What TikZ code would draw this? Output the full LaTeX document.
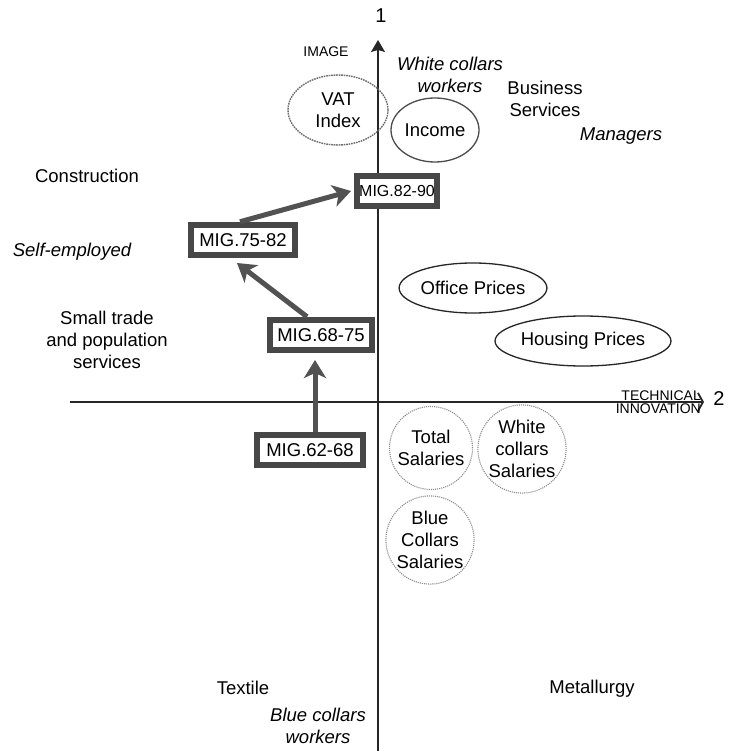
\documentclass[tikz,border=0pt]{standalone}
\usepackage{fontspec}
\setmainfont{Liberation Sans}
\usetikzlibrary{arrows.meta,shapes.geometric}
\begin{document}
\begin{tikzpicture}[x=1pt,y=-1pt,
  txt/.style={inner sep=0pt,font=\fontsize{18.5}{22}\selectfont,align=center},
  itx/.style={txt,font=\fontsize{18.5}{22}\selectfont\itshape},
  small/.style={inner sep=0pt,font=\fontsize{14}{15}\selectfont},
  axis/.style={line width=1.2pt,black!85},
  migbox/.style={draw=black!72,line width=6.5pt,fill=white,inner sep=0pt,
    minimum height=30pt,font=\fontsize{18.5}{22}\selectfont},
  migarrow/.style={line width=5pt,draw=black!68,
    -{Stealth[length=18pt,width=22pt,inset=5pt]}},
  solidell/.style={ellipse,draw=black!85,line width=1.3pt,inner sep=0pt,
    font=\fontsize{18.5}{22}\selectfont,align=center},
  dotell/.style={ellipse,draw=black!45,line width=1.1pt,densely dotted,inner sep=0pt,
    font=\fontsize{18.5}{22}\selectfont,align=center}
]
\useasboundingbox (0,0) rectangle (742,751);
\fill[white] (0,0) rectangle (742,751);

% axes
\coordinate (vtop) at (378,40);
\coordinate (vbot) at (378,751);
\coordinate (hleft) at (70,402);
\coordinate (hright) at (704,402);
\draw[axis,-{Stealth[length=12pt,width=14pt,inset=2pt]}] (vbot) -- (vtop);
\draw[axis,-{Straight Barb[length=5pt,width=18pt,line width=1.8pt]}] (hleft) -- (hright);
\node[inner sep=0pt,font=\fontsize{20}{22}\selectfont] (one) at (381,16) {1};
\node[inner sep=0pt,font=\fontsize{20}{22}\selectfont] (two) at (719,399) {2};
\node[small] (image) at (326,52) {IMAGE};
\node[small,anchor=south east] (tech) at (701,401) {TECHNICAL};
\node[small,anchor=north east] (innov) at (701,404) {INNOVATION};

% ellipses
\node[dotell,minimum width=100pt,minimum height=70pt,draw=black!58,line width=1.4pt,
  dash pattern=on 1.6pt off 0.9pt] (vat) at (338,110) {VAT\\Index};
\node[solidell,minimum width=88pt,minimum height=64pt,draw=black!70] (income) at (435,130) {Income};
\node[solidell,minimum width=136pt,minimum height=50pt] (office) at (473,288) {Office Prices};
\node[solidell,minimum width=136pt,minimum height=50pt] (housing) at (583,341) {Housing Prices};
\node[dotell,circle,minimum size=83pt] (total) at (431,448) {Total\\Salaries};
\node[dotell,circle,minimum size=86pt] (white) at (522,449) {White\\collars\\Salaries};
\node[dotell,circle,minimum size=84pt] (blue) at (430,540) {Blue\\Collars\\Salaries};

% labels
\node[itx] (wcw) at (450,75) {White collars\\workers};
\node[txt] (bs) at (545,99) {Business\\Services};
\node[itx] (mgr) at (621,136) {Managers};
\node[txt] (constr) at (87,176) {Construction};
\node[itx] (self) at (72,252) {Self-employed};
\node[txt] (small) at (107,340) {Small trade\\and population\\services};
\node[txt] (textile) at (243,688) {Textile};
\node[txt] (metal) at (592,689) {Metallurgy};
\node[itx] (bcw) at (318,726) {Blue collars\\workers};

% MIG boxes
\node[migbox,minimum width=80pt,font=\fontsize{16}{18}\selectfont] (m8290) at (397,191) {MIG.82-90};
\node[migbox,minimum width=104pt] (m7582) at (243,240) {MIG.75-82};
\node[migbox,minimum width=102pt] (m6875) at (321,335) {MIG.68-75};
\node[migbox,minimum width=106pt] (m6268) at (310,450) {MIG.62-68};

% arrows between periods
\draw[migarrow] (m6268.north -| 315,0) -- (315,360);
\draw[migarrow] ([xshift=-14pt]m6875.north) -- (237,263);
\draw[migarrow] ([xshift=-3pt]m7582.north) -- (351,191);
\end{tikzpicture}
\end{document}
